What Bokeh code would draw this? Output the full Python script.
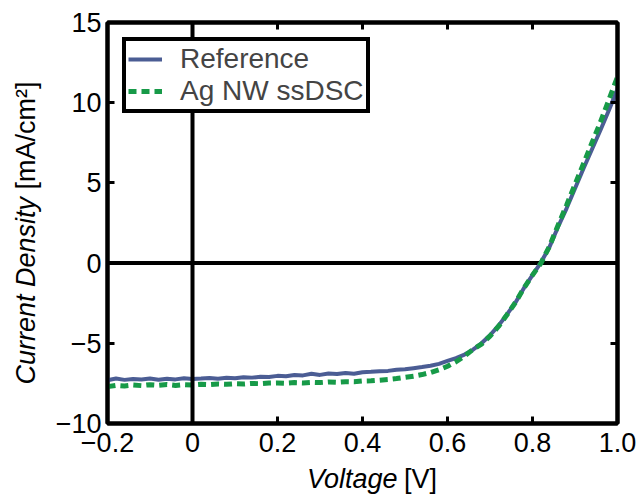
from bokeh.plotting import figure
from bokeh.layouts import row, column
from bokeh.models import (Span, Legend, LegendItem, LinearAxis, FixedTicker, Range1d,
                          CustomLabelingPolicy)
from bokeh.core.properties import value
from bokeh.embed import file_html
from bokeh.resources import INLINE
import math

# ---- data ----
voltage = [-0.20, -0.18, -0.16, -0.14, -0.12, -0.10, -0.08, -0.06, -0.04, -0.02,
           0.00, 0.02, 0.04, 0.06, 0.08, 0.10, 0.12, 0.14, 0.16, 0.18,
           0.20, 0.22, 0.24, 0.26, 0.28, 0.30, 0.32, 0.34, 0.36, 0.38,
           0.40, 0.42, 0.44, 0.46, 0.48, 0.50, 0.52, 0.54, 0.56, 0.58,
           0.60, 0.62, 0.64, 0.66, 0.68, 0.70, 0.72, 0.74, 0.76, 0.78,
           0.80, 0.82, 0.84, 0.86, 0.88, 0.90, 0.92, 0.94, 0.96, 0.98, 1.00]

reference_j = [-7.30, -7.20, -7.28, -7.22, -7.26, -7.20, -7.27, -7.21, -7.25, -7.18,
               -7.22, -7.20, -7.17, -7.21, -7.15, -7.18, -7.12, -7.14, -7.08, -7.10,
               -7.03, -7.06, -6.98, -7.00, -6.90, -6.97, -6.88, -6.92, -6.85, -6.90,
               -6.80, -6.78, -6.74, -6.72, -6.65, -6.62, -6.55, -6.48, -6.40, -6.28,
               -6.10, -5.92, -5.70, -5.40, -5.00, -4.50, -3.90, -3.20, -2.45, -1.55,
               -0.75, 0.05, 1.00, 2.25, 3.40, 4.65, 5.90, 7.10, 8.30, 9.55, 10.85]

agnw_j = [-7.70, -7.62, -7.66, -7.60, -7.64, -7.58, -7.62, -7.57, -7.63, -7.58,
          -7.60, -7.56, -7.58, -7.54, -7.56, -7.52, -7.54, -7.50, -7.52, -7.48,
          -7.47, -7.49, -7.45, -7.47, -7.43, -7.45, -7.41, -7.43, -7.39, -7.40,
          -7.35, -7.34, -7.30, -7.26, -7.20, -7.12, -7.05, -6.95, -6.82, -6.65,
          -6.43, -6.15, -5.80, -5.38, -5.05, -4.55, -3.95, -3.22, -2.45, -1.55,
          -0.75, 0.00, 1.05, 2.35, 3.60, 4.90, 6.20, 7.50, 8.80, 10.20, 11.60]

series_names = ["Reference", "Ag NW ssDSC"]

x_ticks = [-0.2, 0.0, 0.2, 0.4, 0.6, 0.8, 1.0]
x_tick_labels = ["\u22120.2", "0", "0.2", "0.4", "0.6", "0.8", "1.0"]
y_ticks = [-10, -5, 0, 5, 10, 15]
y_tick_labels = ["\u221210", "\u22125", "0", "5", "10", "15"]

x_title = ("Voltage", "[V]")
y_title = ("Current Density", "[mA/cm\u00b2]")

BLUE = "#4b5d94"
GREEN = "#179a48"
FONT = "Liberation Sans"
TITLE_SIZE = "27px"

# layout geometry (pixels)
LEFT_W = 50          # strip holding the rotated y title
MAIN_W = 640 - LEFT_W
MAIN_H = 460
BOTTOM_H = 495 - MAIN_H

# ---------------- main plot ----------------
p = figure(width=MAIN_W, height=MAIN_H, output_backend="svg", toolbar_location=None,
           x_range=Range1d(-0.2, 1.0), y_range=Range1d(-10, 15),
           min_border_left=107 - LEFT_W, min_border_right=23, min_border_top=22,
           min_border_bottom=MAIN_H - 423,
           x_axis_location=None, y_axis_location=None)
p.grid.visible = False
p.outline_line_color = "black"
p.outline_line_width = 4
p.outline_line_alpha = 1.0
p.background_fill_color = "white"
p.border_fill_color = "white"

hide_all = CustomLabelingPolicy(code="for (const i of [...indices.ones()]) { indices.unset(i) } return indices")

def make_axis(ticks, labels, show_labels):
    ax = LinearAxis(ticker=FixedTicker(ticks=ticks))
    ax.major_label_overrides = {t: l for t, l in zip(ticks, labels)}
    ax.major_tick_in = 7
    ax.major_tick_out = 0
    ax.major_tick_line_width = 3
    ax.minor_tick_line_color = None
    ax.axis_line_width = 4
    ax.major_label_text_font = FONT
    ax.major_label_text_color = "black"
    if show_labels:
        ax.major_label_text_font_size = "27px"
    else:
        ax.major_label_text_font_size = "0px"
        ax.major_label_standoff = 0
        ax.major_label_policy = hide_all
    return ax

xb = make_axis(x_ticks, x_tick_labels, True)
xb.major_label_standoff = 9
yl = make_axis(y_ticks, y_tick_labels, True)
yl.major_label_standoff = 6
p.add_layout(xb, "below")
p.add_layout(yl, "left")
p.add_layout(make_axis(x_ticks, x_tick_labels, False), "above")
p.add_layout(make_axis(y_ticks, y_tick_labels, False), "right")

# zero lines
p.add_layout(Span(location=0, dimension="width", line_color="black", line_width=4, level="underlay"))

r_ref = p.line(voltage, reference_j, line_color=BLUE, line_width=4)
r_ag = p.line(voltage, agnw_j, line_color=GREEN, line_width=5, line_dash="8 5")

p.add_layout(Span(location=0, dimension="height", line_color="black", line_width=4))

legend = Legend(items=[LegendItem(label=series_names[0], renderers=[r_ref]),
                       LegendItem(label=series_names[1], renderers=[r_ag])],
                location="top_left", margin=15, padding=2, spacing=0,
                glyph_width=34, glyph_height=20, label_standoff=18,
                label_text_font=FONT, label_text_font_size="28px",
                border_line_color="black", border_line_width=4, border_line_alpha=1.0,
                background_fill_color="white", background_fill_alpha=1.0)
p.add_layout(legend)

# ---------------- title strips ----------------
def strip(w, h):
    f = figure(width=w, height=h, output_backend="svg", toolbar_location=None,
               x_range=Range1d(0, w), y_range=Range1d(0, h),
               min_border=0, x_axis_location=None, y_axis_location=None)
    f.grid.visible = False
    f.outline_line_color = None
    f.background_fill_color = "white"
    f.border_fill_color = "white"
    return f

# bottom strip (x title): pixel units, origin bottom-left of strip
bx = strip(MAIN_W, BOTTOM_H)
bx.text(x=[385.5 - LEFT_W], y=[BOTTOM_H - 18], text=[x_title[0]], text_align="right",
        text_baseline="middle", text_font=value(FONT), text_font_style="italic",
        text_font_size=TITLE_SIZE, text_color="black")
bx.text(x=[393 - LEFT_W], y=[BOTTOM_H - 18], text=[x_title[1]], text_align="left",
        text_baseline="middle", text_font=value(FONT),
        text_font_size=TITLE_SIZE, text_color="black")

# left strip (y title)
ly = strip(LEFT_W, 495)
ly.text(x=[25], y=[495 - 196.5], text=[y_title[0]], text_align="right", angle=math.pi / 2,
        text_baseline="middle", text_font=value(FONT), text_font_style="italic",
        text_font_size=TITLE_SIZE, text_color="black")
ly.text(x=[25], y=[495 - 189], text=[y_title[1]], text_align="left", angle=math.pi / 2,
        text_baseline="middle", text_font=value(FONT),
        text_font_size=TITLE_SIZE, text_color="black")

layout = row(ly, column(p, bx, spacing=0), spacing=0)

open("out.html", "w").write(file_html(layout, INLINE))
